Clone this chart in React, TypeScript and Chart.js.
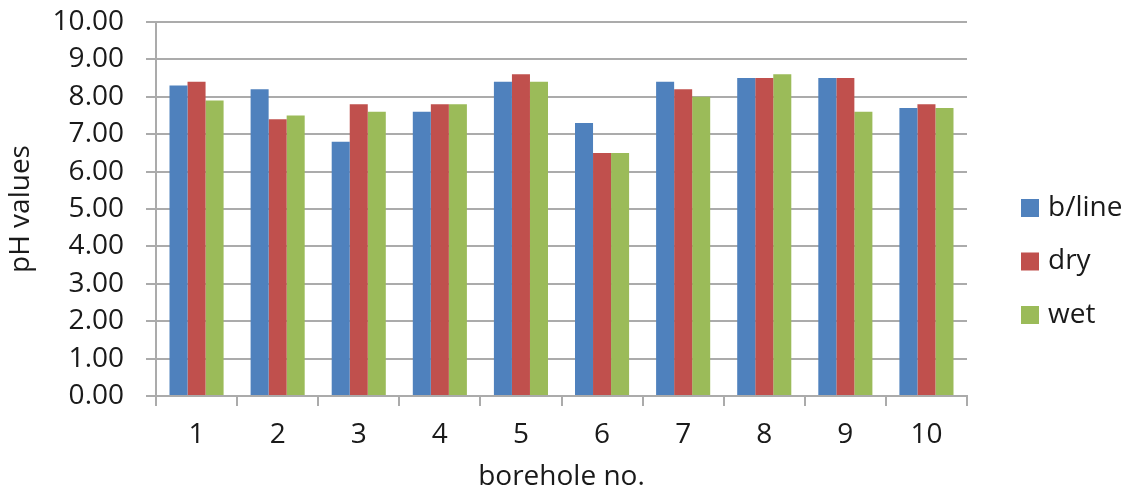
import { useEffect, useRef } from "react";
import { Chart, registerables } from "chart.js";

Chart.register(...registerables);

const categories = ["1", "2", "3", "4", "5", "6", "7", "8", "9", "10"];
const seriesNames = ["b/line", "dry", "wet"];
const blineValues = [8.3, 8.2, 6.8, 7.6, 8.4, 7.3, 8.4, 8.5, 8.5, 7.7];
const dryValues = [8.4, 7.4, 7.8, 7.8, 8.6, 6.5, 8.2, 8.5, 8.5, 7.8];
const wetValues = [7.9, 7.5, 7.6, 7.8, 8.4, 6.5, 8.0, 8.6, 7.6, 7.7];
const seriesColors = ["#4F81BD", "#C0504D", "#9BBB59"];
const yMin = 0;
const yMax = 10;
const yStep = 1;
const yTitle = "pH values";
const xTitle = "borehole no.";

const FONT = '"Open Sans", "DejaVu Sans", sans-serif';
const FS = 28;
const TEXT = "#1a1a1a";
const GRID = "#ABABAB";

const sideLegend = {
  id: "sideLegend",
  afterDraw(chart: any) {
    const ctx = chart.ctx;
    ctx.save();
    ctx.font = `${FS}px ${FONT}`;
    ctx.textBaseline = "middle";
    ctx.textAlign = "left";
    chart.data.datasets.forEach((ds: any, i: number) => {
      const cy = 208 + i * 53.5;
      ctx.fillStyle = ds.backgroundColor;
      ctx.fillRect(1021, cy - 9, 18, 18);
      ctx.fillStyle = TEXT;
      ctx.fillText(ds.label, 1048, cy);
    });
    ctx.restore();
  },
};

export default function App() {
  const ref = useRef<HTMLCanvasElement | null>(null);

  useEffect(() => {
    document.body.style.margin = "0";
    const canvas = ref.current;
    if (!canvas) return;
    const valueSets = [blineValues, dryValues, wetValues];
    const chart = new Chart(canvas, {
      type: "bar",
      data: {
        labels: categories,
        datasets: seriesNames.map((name, i) => ({
          label: name,
          data: valueSets[i],
          backgroundColor: seriesColors[i],
          borderWidth: 0,
          categoryPercentage: 0.667,
          barPercentage: 1,
        })),
      },
      plugins: [sideLegend],
      options: {
        responsive: false,
        animation: false,
        layout: { padding: { top: 22, right: 165, bottom: 0, left: 0 } },
        plugins: {
          legend: { display: false },
          tooltip: { enabled: false },
        },
        scales: {
          x: {
            afterFit: (scale: any) => {
              scale.height = 95;
              scale.paddingLeft = 0;
              scale.paddingRight = 0;
            },
            grid: {
              display: true,
              drawOnChartArea: false,
              drawTicks: true,
              tickLength: 10,
              color: GRID,
              lineWidth: 2,
              offset: true,
            },
            border: { display: true, color: GRID, width: 2 },
            ticks: {
              font: { family: FONT, size: FS },
              color: TEXT,
              padding: 12,
              maxRotation: 0,
              autoSkip: false,
            },
            title: {
              display: true,
              text: xTitle,
              font: { family: FONT, size: FS },
              color: TEXT,
              padding: { top: 0, bottom: -3 },
            },
          },
          y: {
            min: yMin,
            max: yMax,
            afterFit: (scale: any) => {
              scale.width = 156;
              scale.paddingTop = 0;
              scale.paddingBottom = 0;
            },
            grid: {
              color: GRID,
              lineWidth: 2,
              tickLength: 10,
              drawTicks: true,
            },
            border: { display: true, color: GRID, width: 2 },
            ticks: {
              stepSize: yStep,
              autoSkip: false,
              font: { family: FONT, size: FS },
              color: TEXT,
              padding: 22,
              callback: (v: any) => Number(v).toFixed(2),
            },
            title: {
              display: true,
              text: yTitle,
              font: { family: FONT, size: FS },
              color: TEXT,
              padding: { top: 4, bottom: 0 },
            },
          },
        },
      },
    } as any);
    return () => chart.destroy();
  }, []);

  return (
    <div style={{ position: "absolute", left: 0, top: 0, width: 1132, height: 491 }}>
      <canvas ref={ref} width={1132} height={491} style={{ display: "block" }} />
    </div>
  );
}
